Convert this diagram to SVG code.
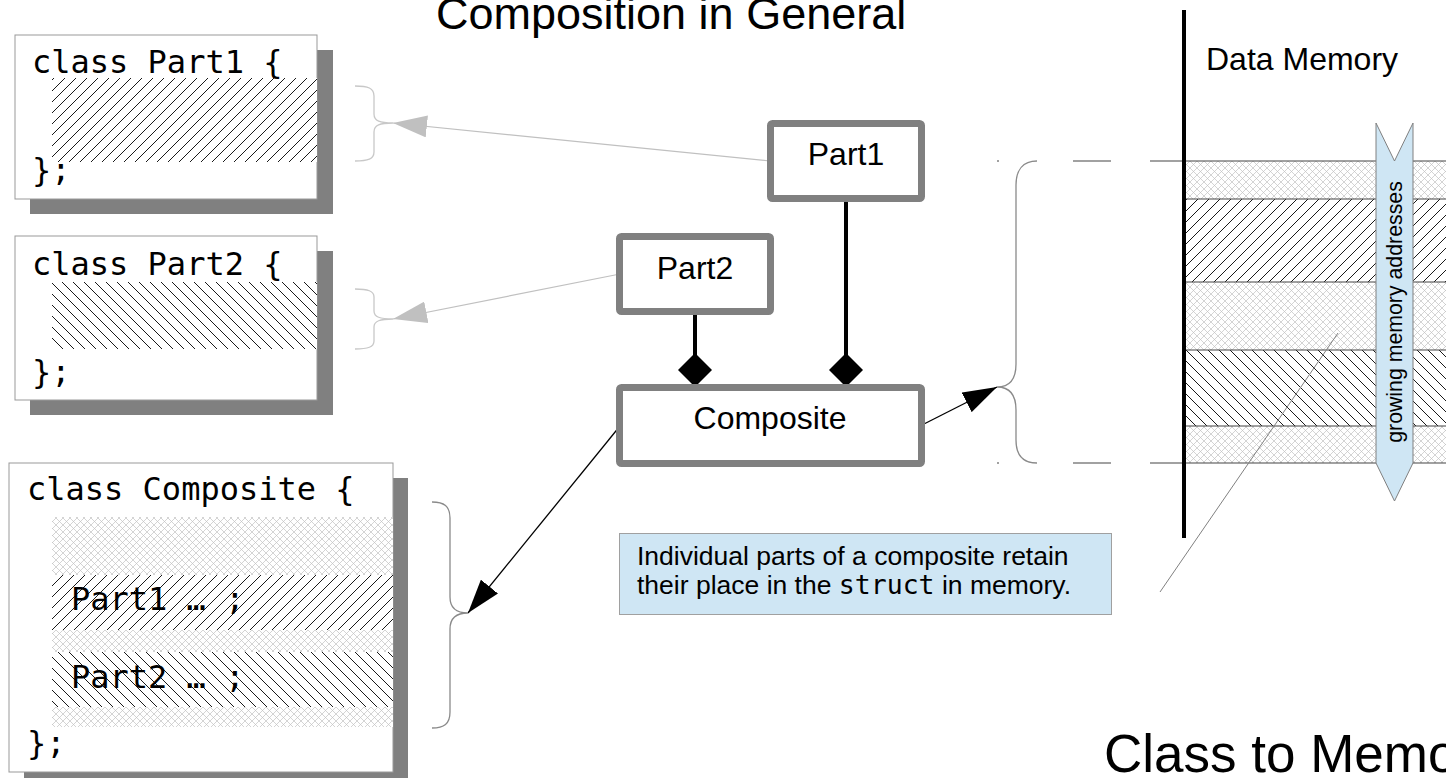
<svg xmlns="http://www.w3.org/2000/svg" width="1446" height="778" viewBox="0 0 1446 778">
  <style>
    .sans { font-family: "Liberation Sans", Arial, sans-serif; fill: #000; }
    .mono { font-family: "DejaVu Sans Mono", "Liberation Mono", monospace; fill: #000; }
    .code { font-size: 32px; }
    .uml { fill: #fff; stroke: #808080; stroke-width: 7; }
    .umltext { font-size: 32px; text-anchor: middle; }
    .codebox { fill: #fff; stroke: #999; stroke-width: 1; }
    .shadow { fill: #808080; }
    .brace-light { fill: none; stroke: #c8c8c8; stroke-width: 1.3; }
    .brace { fill: none; stroke: #8a8a8a; stroke-width: 1.3; }
    .ref { stroke: #c0c0c0; stroke-width: 1.2; fill: none; }
    .link { stroke: #000; stroke-width: 1.3; fill: none; }
    .comp { stroke: #000; stroke-width: 4; fill: none; }
    .band-line { stroke: #444; stroke-width: 1.2; }
  </style>
  <defs>
    <pattern id="hatchFwd" width="11" height="11" patternUnits="userSpaceOnUse">
      <rect width="11" height="11" fill="#fff"/>
      <path d="M-1,1 L1,-1 M0,11 L11,0 M10,12 L12,10" stroke="#000" stroke-width="0.9"/>
    </pattern>
    <pattern id="hatchBack" width="11" height="11" patternUnits="userSpaceOnUse">
      <rect width="11" height="11" fill="#fff"/>
      <path d="M-1,10 L1,12 M0,0 L11,11 M10,-1 L12,1" stroke="#000" stroke-width="0.9"/>
    </pattern>
    <pattern id="cross" width="7" height="7" patternUnits="userSpaceOnUse">
      <rect width="7" height="7" fill="#fff"/>
      <path d="M0,0 L7,7 M0,7 L7,0" stroke="#c2c2c2" stroke-width="0.7"/>
    </pattern>
    <marker id="headGray" markerUnits="userSpaceOnUse" markerWidth="34" markerHeight="22" refX="34" refY="11" orient="auto">
      <path d="M0,0 L34,11 L0,22 Z" fill="#c0c0c0"/>
    </marker>
    <marker id="headBlack" markerUnits="userSpaceOnUse" markerWidth="34" markerHeight="22" refX="34" refY="11" orient="auto">
      <path d="M0,0 L34,11 L0,22 Z" fill="#000"/>
    </marker>
  </defs>

  <rect width="1446" height="778" fill="#fff"/>

  <!-- headings -->
  <text class="sans" x="436" y="29" font-size="45">Composition in General</text>
  <text class="sans" x="1104" y="772" font-size="53">Class to Memory</text>

  <!-- connectors -->
  <g id="connectors">
    <path class="ref" d="M770,161 L393,123" marker-end="url(#headGray)"/>
    <path class="ref" d="M620,274 L393,319" marker-end="url(#headGray)"/>
    <path class="link" d="M620,426 L468,613" marker-end="url(#headBlack)"/>
    <path class="link" d="M922,425 L997,387" marker-end="url(#headBlack)"/>
    <path class="comp" d="M695,315 L695,355"/>
    <path fill="#000" d="M695,353 L712,370 L695,387 L678,370 Z"/>
    <path class="comp" d="M846,202 L846,355"/>
    <path fill="#000" d="M846,353 L863,370 L846,387 L829,370 Z"/>
    <path class="brace-light" d="M355,86 C368,86 374,88 374,96 L374,114 C374,121 380,123 393,123 C380,123 374,125 374,132 L374,152 C374,159 368,161 355,161"/>
    <path class="brace-light" d="M355,289 C368,289 374,291 374,297 L374,311 C374,317 380,319 393,319 C380,319 374,321 374,327 L374,341 C374,347 368,349 355,349"/>
    <path class="brace" d="M432,502 C444,502 450,506 450,518 L450,597 C450,608 456,613 468,613 C456,613 450,618 450,629 L450,712 C450,724 444,728 432,728"/>
    <path class="brace" d="M1037,161 C1023,161 1016,170 1016,185 L1016,364 C1016,379 1010,387 997,387 C1010,387 1016,395 1016,410 L1016,440 C1016,455 1023,463 1037,463"/>
  </g>

  <!-- source listing: Part1 -->
  <g id="code-part1">
    <rect class="shadow" x="30" y="50" width="303" height="164"/>
    <rect class="codebox" x="15" y="35" width="302" height="164"/>
    <rect x="52" y="78" width="265" height="84" fill="url(#hatchFwd)"/>
    <text class="mono code" x="32" y="73">class Part1 {</text>
    <text class="mono code" x="32" y="181">};</text>
  </g>

  <!-- source listing: Part2 -->
  <g id="code-part2">
    <rect class="shadow" x="30" y="251" width="303" height="164"/>
    <rect class="codebox" x="15" y="236" width="302" height="164"/>
    <rect x="52" y="282" width="265" height="67" fill="url(#hatchBack)"/>
    <text class="mono code" x="32" y="275">class Part2 {</text>
    <text class="mono code" x="32" y="383">};</text>
  </g>

  <!-- source listing: Composite -->
  <g id="code-composite">
    <rect class="shadow" x="24" y="478" width="384" height="310"/>
    <rect class="codebox" x="9" y="463" width="384" height="309"/>
    <rect x="52" y="517" width="341" height="58" fill="url(#cross)"/>
    <rect x="52" y="575" width="341" height="55" fill="url(#hatchFwd)"/>
    <rect x="52" y="630" width="341" height="22" fill="url(#cross)"/>
    <rect x="52" y="652" width="341" height="55" fill="url(#hatchBack)"/>
    <rect x="52" y="707" width="341" height="20" fill="url(#cross)"/>
    <text class="mono code" x="27" y="500">class Composite {</text>
    <text class="mono code" x="71" y="610">Part1 … ;</text>
    <text class="mono code" x="71" y="688">Part2 … ;</text>
    <text class="mono code" x="27" y="754">};</text>
  </g>

  <!-- UML classes -->
  <g id="uml-part1">
    <rect class="uml" x="770.5" y="123.5" width="151" height="75" rx="2"/>
    <text class="sans umltext" x="846" y="165">Part1</text>
  </g>
  <g id="uml-part2">
    <rect class="uml" x="619.5" y="236.5" width="151" height="75" rx="2"/>
    <text class="sans umltext" x="695" y="279">Part2</text>
  </g>
  <g id="uml-composite">
    <rect class="uml" x="619.5" y="387.5" width="302" height="76" rx="2"/>
    <text class="sans umltext" x="770" y="429">Composite</text>
  </g>

  <!-- note -->
  <g id="note">
    <rect x="619.5" y="533.5" width="492" height="81" fill="#cfe6f4" stroke="#a0a0a0" stroke-width="1"/>
    <text class="sans" x="637" y="565" font-size="26.5">Individual parts of a composite retain</text>
    <text class="sans" x="637" y="594" font-size="26.5">their place in the <tspan class="mono">struct</tspan> in memory.</text>
  </g>

  <!-- data memory column -->
  <g id="memory">
    <text class="sans" x="1206" y="70" font-size="32">Data Memory</text>
    <rect x="1186" y="161" width="260" height="38" fill="url(#cross)"/>
    <rect x="1186" y="199" width="260" height="83" fill="url(#hatchFwd)"/>
    <rect x="1186" y="282" width="260" height="68" fill="url(#cross)"/>
    <rect x="1186" y="350" width="260" height="76" fill="url(#hatchBack)"/>
    <rect x="1186" y="426" width="260" height="37" fill="url(#cross)"/>
    <path class="band-line" d="M1186,199 H1446 M1186,282 H1446 M1186,350 H1446 M1186,426 H1446"/>
    <path class="band-line" d="M997,161 H999 M1073,161 H1111 M1150,161 H1446 M997,463 H999 M1073,463 H1111 M1150,463 H1446"/>
    <path stroke="#000" stroke-width="4" d="M1184,10 V538"/>
    <!-- pointer from the note area into the part bands -->
    <path stroke="#808080" stroke-width="1" d="M1338,333 L1160,592"/>
  </g>

  <!-- growth direction -->
  <g id="growth-arrow">
    <path d="M1376,123 L1394.5,161 L1413,123 L1413,463 L1394.5,501 L1376,463 Z" fill="#cfe6f4" stroke="#808080" stroke-width="1"/>
    <text class="sans" font-size="21.3" text-anchor="middle" transform="translate(1402,312) rotate(-90)">growing memory addresses</text>
  </g>
</svg>
